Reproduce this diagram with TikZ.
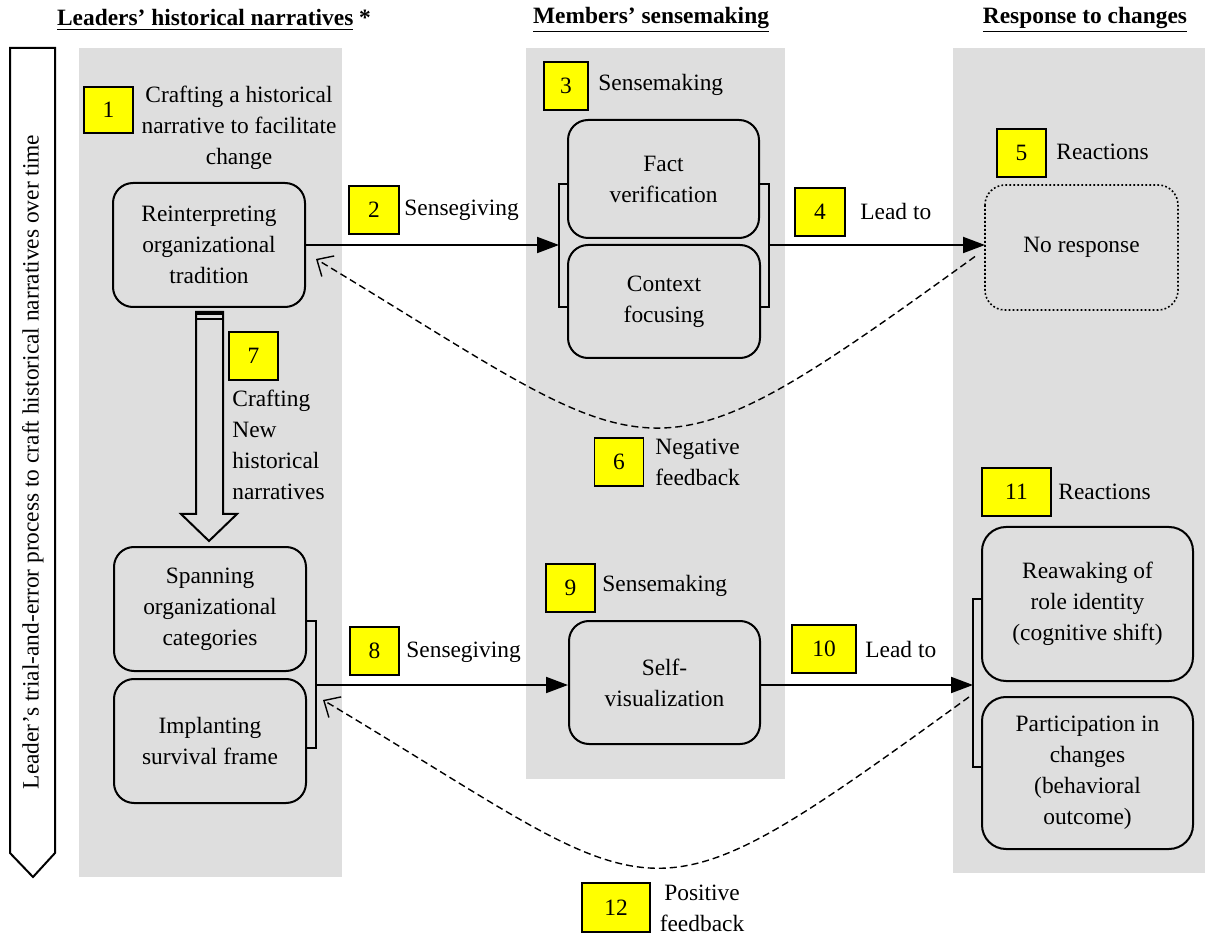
\documentclass[tikz,border=0pt]{standalone}
\usepackage{fontspec}
\setmainfont{Liberation Serif}
\usetikzlibrary{arrows.meta,calc}
\definecolor{panel}{RGB}{222,222,222}
\definecolor{ybox}{RGB}{255,255,0}
\begin{document}
\begin{tikzpicture}[x=0.5pt,y=-0.5pt,
  every node/.style={font=\fontsize{11.7}{15.5}\selectfont},
  rbox/.style={draw,line width=1pt,rounded corners=10pt,fill=panel,align=center,inner sep=0pt},
  num/.style={draw,line width=0.7pt,fill=ybox,inner sep=0pt},
  lbl/.style={inner sep=0pt,anchor=west,align=left},
  conn/.style={line width=1pt,-{Triangle[length=11pt,width=8pt]}},
  fb/.style={line width=0.7pt,dash pattern=on 3.5pt off 2pt,-{Straight Barb[length=6.5pt,width=12pt]}},
  brk/.style={line width=1pt},
  ttl/.style={font=\fontsize{11.7}{15.5}\selectfont\bfseries}]
\useasboundingbox (0,0) rectangle (1205,935);

% panels
\fill[panel] (79,48) rectangle (342,877);
\fill[panel] (526,48) rectangle (785,779);
\fill[panel] (953,48) rectangle (1205,873);

% titles
\node[ttl] (t1) at (214,20) {\underline{Leaders’ historical narratives} *};
\node[ttl] (t2) at (651,20) {\underline{Members’ sensemaking}};
\node[ttl] (t3) at (1085,20) {\underline{Response to changes}};

% left time arrow
\draw[line width=1pt,fill=white] (10,48) -- (55,48) -- (55,853) -- (33,877) -- (10,853) -- cycle;
\node[rotate=90] (vt) at (33,462) {Leader’s trial-and-error process to craft historical narratives over time};

% boxes
\node[rbox,minimum width=96pt,minimum height=62pt] (A) at (209,245) {Reinterpreting\\organizational\\tradition};
\node[rbox,minimum width=95.5pt,minimum height=59pt] (B) at (663.5,179) {Fact\\verification};
\node[rbox,minimum width=96pt,minimum height=56.5pt] (C) at (664,301.5) {Context\\focusing};
\node[rbox,draw=none,minimum width=95.5pt,minimum height=61.5pt] (D) at (1081.5,247.5) {No response};
\draw[line width=0.8pt,dash pattern=on 0.9pt off 1.1pt,rounded corners=10pt] (D.north west) rectangle (D.south east);
\node[rbox,minimum width=96pt,minimum height=62pt] (E) at (210,609) {Spanning\\organizational\\categories};
\node[rbox,minimum width=96pt,minimum height=62pt] (F) at (210,741) {Implanting\\survival frame};
\node[rbox,minimum width=95.5pt,minimum height=61.5pt] (G) at (664.5,682.5) {Self-\\visualization};
\node[rbox,rounded corners=12pt,minimum width=105.5pt,minimum height=77pt] (H) at (1087.5,604) {Reawaking of\\role identity\\(cognitive shift)};
\node[rbox,rounded corners=12pt,minimum width=105.5pt,minimum height=76pt] (I) at (1087.5,773) {Participation in\\changes\\(behavioral\\outcome)};

% number boxes
\node[num,minimum width=24.5pt,minimum height=23pt] (n1) at (108.5,110) {1};
\node[num,minimum width=25pt,minimum height=24pt] (n2) at (374,210) {2};
\node[num,minimum width=22pt,minimum height=24pt] (n3) at (566,86) {3};
\node[num,minimum width=25pt,minimum height=24pt] (n4) at (820,212) {4};
\node[num,minimum width=24.5pt,minimum height=24pt] (n5) at (1021.5,153) {5};
\node[num,minimum width=24.5pt,minimum height=24pt] (n6) at (619,462) {6};
\node[num,minimum width=24.5pt,minimum height=24pt] (n7) at (253.5,356) {7};
\node[num,minimum width=24.5pt,minimum height=24pt] (n8) at (374.5,651) {8};
\node[num,minimum width=24.5pt,minimum height=24pt] (n9) at (570.5,588) {9};
\node[num,minimum width=32pt,minimum height=24pt] (n10) at (824,649) {10};
\node[num,minimum width=34.5pt,minimum height=24pt] (n11) at (1016.5,492) {11};
\node[num,minimum width=34pt,minimum height=24.5pt] (n12) at (616,907.5) {12};

% labels
\node[align=center,inner sep=0pt] (l1) at (239,128) {Crafting a historical\\narrative to facilitate\\change};
\node[lbl] (l2) at (404,210) {Sensegiving};
\node[lbl] (l3) at (598,85) {Sensemaking};
\node[lbl] (l4) at (860,212) {Lead to};
\node[lbl] (l5) at (1056,152) {Reactions};
\node[lbl] (l6) at (655,462) {Negative\\feedback};
\node[lbl] (l7) at (232,444.5) {Crafting\\New\\historical\\narratives};
\node[lbl] (l8) at (406,652) {Sensegiving};
\node[lbl] (l9) at (602,586) {Sensemaking};
\node[lbl] (l10) at (865,649) {Lead to};
\node[lbl] (l11) at (1058,492) {Reactions};
\node[align=center,inner sep=0pt] (l12) at (702,908) {Positive\\feedback};

% brackets
\draw[brk] (B.west |- 0,184) -- (559,184) -- (559,307) -- (C.west |- 0,307);
\draw[brk] (B.east |- 0,184) -- (769,184) -- (769,307) -- (C.east |- 0,307);
\draw[brk] (E.east |- 0,621) -- (316,621) -- (316,748) -- (F.east |- 0,748);
\draw[brk] (H.west |- 0,599) -- (973,599) -- (973,767) -- (I.west |- 0,767);
\coordinate (bc1) at (559,245);
\coordinate (bc2) at (769,245);
\coordinate (bef) at (316,685);
\coordinate (bhi) at (973,685);

% connectors
\draw[conn] (A.east |- bc1) -- (bc1);
\draw[conn] (bc2) -- (D.west |- bc2);
\draw[conn] (bef) -- (G.west |- bef);
\draw[conn] (G.east |- bhi) -- (bhi);

% hollow arrow 7
\draw[line width=1pt,fill=panel,line join=miter] (196,312) -- (223,312) -- (223,514) -- (237,514) -- (209,541) -- (181,514) -- (196,514) -- cycle;
\draw[line width=2pt] (196,313) -- (223,313);
\draw[line width=1pt] (196,319) -- (223,319);

% feedback curves
\coordinate (s6) at ($(D.west)+(-10,9)$);
\coordinate (e6) at ($(A.east)+(10,14)$);
\draw[fb] (s6) .. controls (638,500) and (665,469) .. (e6);
\coordinate (s12) at ($(I.west)+(-12,-76)$);
\coordinate (e12) at ($(bef)+(7,15)$);
\draw[fb] (s12) .. controls (633,940) and (673,909) .. (e12);
\end{tikzpicture}
\end{document}
